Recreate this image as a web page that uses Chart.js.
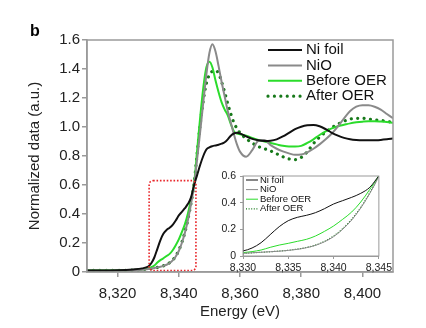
<!DOCTYPE html>
<html>
<head>
<meta charset="utf-8">
<script src="https://cdn.jsdelivr.net/npm/chart.js@4.4.1/dist/chart.umd.min.js"></script>
<style>
  html, body { margin: 0; padding: 0; background: #fff; }
  #wrap { position: relative; width: 426px; height: 328px; }
  #mainChart { position: absolute; left: 0; top: 0; }
  #insetChart { position: absolute; left: 215px; top: 160px; }
</style>
</head>
<body>
<div id="wrap">
  <canvas id="mainChart" width="426" height="328"></canvas>
  <canvas id="insetChart" width="180" height="115"></canvas>
</div>
<script>
// energy grid (eV), shared by all four spectra
const energy = [
  8310, 8315, 8320, 8325, 8328,
  8330, 8331, 8332, 8333, 8334, 8335, 8336, 8337, 8338, 8339, 8340,
  8341, 8342, 8343, 8344, 8345, 8346, 8347, 8348, 8349, 8350,
  8351, 8352, 8353, 8354, 8355, 8356, 8357, 8358, 8359, 8360,
  8362, 8364, 8366, 8368, 8370, 8372, 8374, 8376, 8378, 8380,
  8382, 8384, 8386, 8388, 8390, 8392, 8394, 8396, 8398, 8400,
  8402, 8404, 8406, 8408, 8410
];

const niFoil = [
  0.010, 0.010, 0.012, 0.018, 0.025,
  0.038, 0.060, 0.100, 0.160, 0.220, 0.265, 0.290, 0.305, 0.325, 0.355, 0.390,
  0.415, 0.440, 0.470, 0.515, 0.600, 0.670, 0.740, 0.800, 0.845, 0.860,
  0.868, 0.873, 0.878, 0.885, 0.895, 0.915, 0.940, 0.955, 0.960, 0.955,
  0.935, 0.918, 0.908, 0.903, 0.905, 0.915, 0.935, 0.960, 0.985, 1.002,
  1.012, 1.014, 1.005, 0.985, 0.960, 0.940, 0.925, 0.915, 0.910, 0.908,
  0.908, 0.909, 0.911, 0.915, 0.920
];

const niO = [
  0.010, 0.010, 0.010, 0.012, 0.015,
  0.020, 0.024, 0.028, 0.032, 0.036, 0.042, 0.050, 0.062, 0.080, 0.107, 0.145,
  0.200, 0.270, 0.360, 0.470, 0.600, 0.780, 0.970, 1.170, 1.360, 1.510,
  1.570, 1.520, 1.420, 1.310, 1.210, 1.110, 1.030, 0.950, 0.880, 0.830,
  0.795, 0.840, 0.905, 0.910, 0.875, 0.850, 0.832, 0.818, 0.808, 0.810,
  0.825, 0.850, 0.880, 0.915, 0.955, 1.005, 1.060, 1.110, 1.140, 1.150,
  1.150, 1.140, 1.120, 1.090, 1.060
];

const beforeOER = [
  0.012, 0.012, 0.012, 0.014, 0.018,
  0.025, 0.033, 0.045, 0.065, 0.082, 0.095, 0.110, 0.125, 0.150, 0.185, 0.225,
  0.275, 0.330, 0.405, 0.500, 0.610, 0.840, 1.070, 1.270, 1.410, 1.450,
  1.410, 1.320, 1.240, 1.170, 1.120, 1.080, 1.020, 0.970, 0.955, 0.950,
  0.940, 0.925, 0.910, 0.900, 0.890, 0.880, 0.870, 0.865, 0.865, 0.870,
  0.890, 0.915, 0.945, 0.970, 0.990, 1.005, 1.015, 1.025, 1.032, 1.037,
  1.040, 1.040, 1.038, 1.035, 1.030
];

const afterOER = [
  0.012, 0.012, 0.012, 0.013, 0.016,
  0.020, 0.024, 0.028, 0.032, 0.037, 0.043, 0.052, 0.064, 0.082, 0.110, 0.150,
  0.205, 0.275, 0.365, 0.475, 0.610, 0.820, 1.020, 1.180, 1.300, 1.360,
  1.385, 1.390, 1.370, 1.310, 1.240, 1.160, 1.090, 1.030, 0.990, 0.960,
  0.920, 0.890, 0.865, 0.850, 0.835, 0.815, 0.795, 0.780, 0.775, 0.790,
  0.830, 0.885, 0.930, 0.965, 0.995, 1.020, 1.040, 1.055, 1.060, 1.060,
  1.055, 1.050, 1.045, 1.040, 1.030
];

const seriesLabels = ['Ni foil', 'NiO', 'Before OER', 'After OER'];

const xTicks = [8320, 8340, 8360, 8380, 8400];
const yTicks = [0, 0.2, 0.4, 0.6, 0.8, 1.0, 1.2, 1.4, 1.6];
const insetXTicks = [8330, 8335, 8340, 8345];
const insetYTicks = [0, 0.2, 0.4, 0.6];

// dotted red box marking the zoomed region (data units)
const boxEnergy = [8330.3, 8345.6];
const boxValue = [0.01, 0.63];

const FONT = "'Liberation Sans', Arial, Helvetica, sans-serif";
Chart.defaults.font.family = FONT;

function pts(values) {
  return energy.map((e, i) => ({ x: e, y: values[i] }));
}

function makeDatasets(thin) {
  const w = thin ? 1 : 2;
  return [
    { label: seriesLabels[0], data: pts(niFoil), borderColor: '#111111', borderWidth: w },
    { label: seriesLabels[1], data: pts(niO), borderColor: '#8a8a8a', borderWidth: w },
    { label: seriesLabels[2], data: pts(beforeOER), borderColor: '#2bdc2b', borderWidth: w },
    {
      label: seriesLabels[3], data: pts(afterOER), borderColor: '#17791a',
      borderWidth: thin ? 1.2 : 3.2,
      borderDash: thin ? [1, 1.6] : [0.01, 6.4],
      borderCapStyle: thin ? 'butt' : 'round'
    }
  ].map(d => Object.assign({
    pointRadius: 0, fill: false, cubicInterpolationMode: 'monotone'
  }, d));
}

function legendPlugin(id, o) {
  return {
    id: id,
    afterDraw(chart) {
      const ctx = chart.ctx;
      ctx.save();
      ctx.font = o.font;
      ctx.textBaseline = 'middle';
      chart.data.datasets.forEach((ds, i) => {
        const y = o.y + i * o.step;
        ctx.beginPath();
        ctx.strokeStyle = ds.borderColor;
        ctx.lineWidth = ds.borderWidth;
        ctx.setLineDash(ds.borderDash || []);
        ctx.lineCap = ds.borderCapStyle || 'butt';
        ctx.moveTo(o.x0, y);
        ctx.lineTo(o.x1, y);
        ctx.stroke();
        ctx.setLineDash([]);
        ctx.fillStyle = '#111';
        ctx.fillText(ds.label, o.tx, y);
      });
      ctx.restore();
    }
  };
}

function framePlugin(id, color, width, fillWhite) {
  return {
    id: id,
    beforeDraw(chart) {
      if (!fillWhite) return;
      const a = chart.chartArea;
      chart.ctx.save();
      chart.ctx.fillStyle = '#fff';
      chart.ctx.fillRect(a.left, a.top, a.right - a.left, a.bottom - a.top);
      chart.ctx.restore();
    },
    afterDraw(chart) {
      const a = chart.chartArea, ctx = chart.ctx;
      ctx.save();
      ctx.strokeStyle = color;
      ctx.lineWidth = width;
      ctx.strokeRect(a.left, a.top, a.right - a.left, a.bottom - a.top);
      ctx.restore();
    }
  };
}

const zoomBoxPlugin = {
  id: 'zoomBox',
  afterDatasetsDraw(chart) {
    const x = chart.scales.x, y = chart.scales.y, ctx = chart.ctx;
    const l = x.getPixelForValue(boxEnergy[0]), r = x.getPixelForValue(boxEnergy[1]);
    const t = y.getPixelForValue(boxValue[1]), b = y.getPixelForValue(boxValue[0]);
    ctx.save();
    ctx.strokeStyle = '#e8262a';
    ctx.lineWidth = 1.6;
    ctx.setLineDash([1.6, 1.8]);
    ctx.beginPath();
    ctx.roundRect(l, t, r - l, b - t, 4);
    ctx.stroke();
    ctx.restore();
  }
};

const panelLetter = {
  id: 'panelLetter',
  afterDraw(chart) {
    const ctx = chart.ctx;
    ctx.save();
    ctx.font = 'bold 16px ' + FONT;
    ctx.fillStyle = '#000';
    ctx.textBaseline = 'alphabetic';
    ctx.fillText('b', 30, 36);
    ctx.restore();
  }
};

const tickFmt = v => v.toLocaleString('en-US');

new Chart(document.getElementById('mainChart').getContext('2d'), {
  type: 'line',
  data: { datasets: makeDatasets(false) },
  options: {
    responsive: false,
    animation: false,
    events: [],
    layout: { padding: { top: 40, right: 33, left: 0, bottom: 0 } },
    plugins: { legend: { display: false }, tooltip: { enabled: false } },
    scales: {
      x: {
        type: 'linear',
        min: 8310,
        max: 8410,
        afterBuildTicks: s => { s.ticks = xTicks.map(v => ({ value: v })); },
        afterFit: s => { s.height = 56; },
        ticks: {
          font: { size: 15 }, color: '#222', padding: 8,
          autoSkip: false, maxRotation: 0, callback: tickFmt
        },
        grid: { drawOnChartArea: false, drawTicks: true, tickLength: 5, color: '#9a9a9a', lineWidth: 1.5 },
        border: { display: true, color: '#9a9a9a', width: 1.5 },
        title: {
          display: true, text: 'Energy (eV)', color: '#222',
          font: { size: 15 }, padding: { top: 0, bottom: 7 }
        }
      },
      y: {
        min: 0,
        max: 1.6,
        afterBuildTicks: s => { s.ticks = yTicks.map(v => ({ value: v })); },
        afterFit: s => { s.width = 87; },
        ticks: {
          font: { size: 15 }, color: '#222', padding: 2,
          callback: v => (v === 0 ? '0' : v.toFixed(1))
        },
        grid: { drawOnChartArea: false, drawTicks: true, tickLength: 5, color: '#9a9a9a', lineWidth: 1.5 },
        border: { display: true, color: '#9a9a9a', width: 1.5 },
        title: {
          display: true, text: 'Normalized data (a.u.)', color: '#222',
          font: { size: 15 }, padding: { top: 26, bottom: 0 }
        }
      }
    }
  },
  plugins: [
    framePlugin('mainFrame', '#9a9a9a', 1.5, false),
    zoomBoxPlugin,
    legendPlugin('mainLegend', { font: '15px ' + FONT, x0: 268, x1: 302, tx: 306, y: 50, step: 15.4 }),
    panelLetter
  ]
});

new Chart(document.getElementById('insetChart').getContext('2d'), {
  type: 'line',
  data: { datasets: makeDatasets(true) },
  options: {
    responsive: false,
    animation: false,
    events: [],
    layout: { padding: { top: 16, right: 13, left: 0, bottom: 0 } },
    plugins: { legend: { display: false }, tooltip: { enabled: false } },
    scales: {
      x: {
        type: 'linear',
        min: 8330,
        max: 8345,
        afterBuildTicks: s => { s.ticks = insetXTicks.map(v => ({ value: v })); },
        afterFit: s => { s.height = 19; },
        ticks: {
          font: { size: 10.5 }, color: '#222', padding: 3,
          autoSkip: false, maxRotation: 0, callback: tickFmt
        },
        grid: { drawOnChartArea: false, drawTicks: true, tickLength: 3, color: '#9a9a9a', lineWidth: 1 },
        border: { display: true, color: '#9a9a9a', width: 1 }
      },
      y: {
        min: 0,
        max: 0.6,
        afterBuildTicks: s => { s.ticks = insetYTicks.map(v => ({ value: v })); },
        afterFit: s => { s.width = 28; },
        ticks: {
          font: { size: 10.5 }, color: '#222', padding: 4,
          callback: v => (v === 0 ? '0' : v.toFixed(1))
        },
        grid: { drawOnChartArea: false, drawTicks: true, tickLength: 3, color: '#9a9a9a', lineWidth: 1 },
        border: { display: true, color: '#9a9a9a', width: 1 }
      }
    }
  },
  plugins: [
    framePlugin('insetFrame', '#9a9a9a', 1, true),
    legendPlugin('insetLegend', { font: '9.5px ' + FONT, x0: 31, x1: 43, tx: 45, y: 20, step: 9.6 })
  ]
});
</script>
</body>
</html>
